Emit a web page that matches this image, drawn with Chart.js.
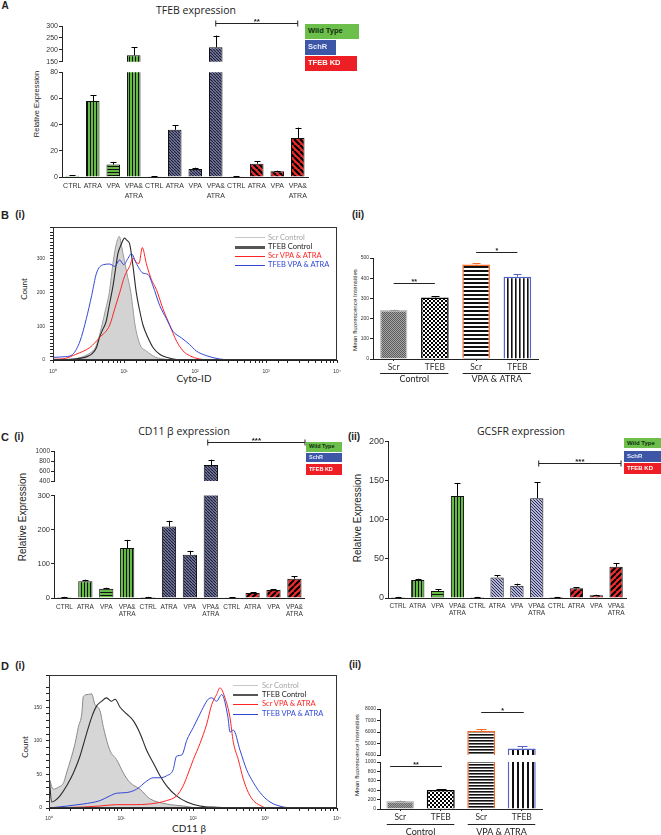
<!DOCTYPE html>
<html>
<head>
<meta charset="utf-8">
<script src="https://cdn.jsdelivr.net/npm/chart.js@4.4.1/dist/chart.umd.min.js"></script>
<style>
html,body{margin:0;padding:0;background:#fff;overflow:hidden}
#fig{position:relative;width:661px;height:835px;overflow:hidden;background:#fff;font-family:'Liberation Sans',Arial,sans-serif;color:#222}
#fig canvas{position:absolute}
.t{position:absolute;white-space:nowrap;line-height:1;transform:translate(-50%,-50%)}
.t.r{transform:translate(-50%,-50%) rotate(-90deg)}
.b{font-weight:bold}
.lg{position:absolute;box-sizing:border-box;white-space:nowrap;font-weight:bold;padding-left:3px;overflow:hidden}
.ln{position:absolute}
.lt{position:absolute;white-space:nowrap;line-height:1;transform:translateY(-50%);font-family:Lato,sans-serif}
</style>
</head>
<body>
<div id="fig">
  <div class="t b" style="left:5px;top:6px;font-size:10px">A</div>
  <div class="t" style="left:196px;top:10px;font-family:'Open Sans';font-size:10.5px">TFEB expression</div>
  <div class="t r" style="left:37px;top:104px;font-size:7.5px">Relative Expression</div>

  <div class="t b" style="left:5px;top:215px;font-size:11px">B</div>
  <div class="t b" style="left:20px;top:215px;font-size:10px">(i)</div>
  <div class="t b" style="left:358px;top:215px;font-size:10px">(ii)</div>
  <div class="t r" style="left:24px;top:289px;font-family:Lato;font-size:8px">Count</div>
  <div class="t" style="left:194px;top:378px;font-family:Lato;font-size:10px">Cyto-ID</div>
  <div class="t r" style="left:354.5px;top:310px;font-size:6.2px">Mean fluorescence Intensities</div>

  <div class="t b" style="left:5px;top:437px;font-size:11px">C</div>
  <div class="t b" style="left:19px;top:437px;font-size:10px">(i)</div>
  <div class="t b" style="left:354px;top:437px;font-size:10px">(ii)</div>
  <div class="t" style="left:184px;top:431px;font-family:'Open Sans';font-size:10.5px">CD11 β expression</div>
  <div class="t" style="left:521px;top:431px;font-family:'Open Sans';font-size:10.5px">GCSFR expression</div>
  <div class="t r" style="left:22.5px;top:517px;font-size:10px">Relative Expression</div>
  <div class="t r" style="left:358px;top:518px;font-size:10px">Relative Expression</div>

  <div class="t b" style="left:5px;top:666px;font-size:11px">D</div>
  <div class="t b" style="left:20px;top:666px;font-size:10px">(i)</div>
  <div class="t b" style="left:355px;top:665px;font-size:10px">(ii)</div>
  <div class="t r" style="left:24.5px;top:747px;font-family:Lato;font-size:8px">Count</div>
  <div class="t" style="left:189px;top:828px;font-family:Lato;font-size:10px">CD11 β</div>
  <div class="t r" style="left:357px;top:755px;font-size:6.2px">Mean fluorescence Intensities</div>
</div>
<script>
// ================= DATA =================
const exprCategories = ['CTRL','ATRA','VPA',['VPA&','ATRA'],'CTRL','ATRA','VPA',['VPA&','ATRA'],'CTRL','ATRA','VPA',['VPA&','ATRA']];
const exprGroups = ['Wild Type','SchR','TFEB KD'];

const tfebMean   = [1, 58, 9.5, 177.5, 0.5, 36, 6.1, 210.5, 0.6, 10.2, 4.3, 29.8];
const tfebErrTop = [1.3, 62.5, 11.5, 210.5, 0.7, 39.4, 7.1, 260, 0.8, 12, 4.8, 37.7];

const cd11Mean   = [3, 48.7, 27.3, 146, 3, 209, 126.6, 718, 2, 14.6, 23.4, 56.5];
const cd11ErrTop = [3.5, 53.6, 30, 170, 3.5, 226, 138, 826, 2.5, 16.5, 26.3, 64];

const gcsfrMean   = [1.3, 22.9, 8.9, 130.4, 1.3, 26.3, 15.7, 127.4, 1.3, 12.3, 3.4, 39.9];
const gcsfrErrTop = [1.5, 24.6, 11, 147, 1.5, 28.9, 18.3, 147.8, 1.5, 14, 4.2, 44.2];

const mfiCategories = ['Scr','TFEB','Scr','TFEB'];
const mfiGroups = ['Control','VPA & ATRA'];
const cytoMfi       = [243, 305, 468, 407];
const cytoMfiErrTop = [245, 312, 473, 420];
const cd11Mfi       = [171, 405, 6090, 4560];
const cd11MfiErrTop = [180, 420, 6240, 4740];

const histLegendNames = ['Scr Control','TFEB Control','Scr VPA & ATRA','TFEB VPA & ATRA'];
const logTickLabels = ['10\u2070','10\u00b9','10\u00b2','10\u00b3','10\u2074'];

// Cyto-ID histograms [intensity, count]
const cytoScrControl = [[1,0],[1.6,2],[2.2,5],[2.8,12],[3.4,22],[3.9,35],[4.4,65],[4.9,104],[5.5,150],[6.2,200],[7.1,297],[7.8,345],[8.6,367],[9.3,335],[10.3,287],[11.3,245],[12.5,200],[13.4,150],[14.3,104],[16.8,46],[20.6,27],[28,8],[39,2],[50,0],[10000,0]];
const cytoTfebControl = [[1,0],[2,3],[3,10],[3.6,20],[4.1,37],[4.5,66],[5,90],[5.6,114],[6.3,170],[7,220],[7.8,287],[8.2,316],[9,340],[10.2,362],[11,355],[12,345],[13.4,278],[14.9,200],[16.5,150],[18.5,104],[21.8,66],[25.6,37],[31.8,17],[39.5,8],[55,1],[80,0],[10000,0]];
const cytoScrVpaAtra = [[1,2],[1.5,5],[2.1,17],[3.3,37],[4.5,66],[6.3,104],[7.4,152],[8.7,200],[10.2,249],[12,278],[13.4,302],[14.9,290],[16.3,287],[18.1,334],[20.6,287],[24.3,239],[28.5,210],[35.4,152],[44,104],[55,56],[68,27],[84,13],[116,3],[178,0],[10000,0]];
const cytoTfebVpaAtra = [[1,8],[1.5,10],[1.9,17],[2.4,56],[2.95,123],[3.5,191],[4.1,258],[5.1,283],[6.3,285],[7.4,278],[8.7,297],[9.9,283],[11.4,302],[12.7,316],[14.9,287],[18.5,258],[21.8,254],[25.6,220],[31.8,162],[39.5,123],[49,85],[64,66],[84,46],[104,27],[144,13],[222,3],[343,0],[10000,0]];

// CD11b histograms [intensity, count]
const cd11ScrControl = [[1,45],[1.15,28],[1.35,31],[1.6,38],[1.75,52],[2,72],[2.3,96],[2.55,120],[2.85,140],[3,166],[3.5,169],[3.9,170],[4.35,154],[5.1,145],[5.7,120],[7,86],[8.7,72],[10.8,52],[13.3,38],[18.4,28],[25,14],[43,6],[73,3],[125,0],[10000,0]];
const cd11TfebControl = [[1,50],[1.09,9],[1.21,11],[1.42,18],[1.76,33],[2.18,52],[2.69,77],[3.33,111],[3.91,135],[4.59,152],[5.39,159],[6.3,164],[7.4,159],[8.3,162],[9.7,150],[12,140],[14.8,130],[18.4,111],[22.7,86],[28.1,67],[34.8,48],[43,33],[59,18],[82,9],[125,3],[213,1],[400,0],[10000,0]];
const cd11ScrVpaAtra = [[1,0],[3,1.5],[5.1,3],[8.7,5],[14.8,5],[25,6],[43,11],[59,18],[73,33],[86,52],[101,72],[125,96],[155,125],[182,154],[213,169],[237,179],[278,164],[326,135],[363,98],[426,72],[500,43],[587,23],[689,11],[853,4],[1055,0],[10000,0]];
const cd11TfebVpaAtra = [[1,0],[3,6],[5.1,11],[7,18],[8.7,22],[12,23],[16.5,28],[22.7,40],[28,45],[35,45],[43,48],[53,57],[59,77],[70,79],[82,101],[101,120],[125,140],[139,150],[163,162],[182,164],[213,159],[250,169],[306,135],[326,113],[363,116],[450,86],[556,57],[689,38],[853,23],[1173,9],[1800,1.5],[2475,0],[10000,0]];

// ================= RENDER =================
const fig = document.getElementById('fig');
Chart.defaults.font.family = "'Liberation Sans', Arial, sans-serif";
Chart.defaults.color = '#222';
Chart.defaults.animation = false;
Chart.defaults.events = [];
Chart.defaults.plugins.legend.display = false;
Chart.defaults.plugins.tooltip.enabled = false;

function pat(bg, fg, type, p, lw) {
  const c = document.createElement('canvas');
  c.width = p; c.height = p;
  const g = c.getContext('2d');
  g.fillStyle = bg; g.fillRect(0, 0, p, p);
  g.fillStyle = fg; g.strokeStyle = fg; g.lineWidth = lw;
  if (type === 'v') g.fillRect(0, 0, lw, p);
  else if (type === 'h') g.fillRect(0, 0, p, lw);
  else if (type === 'd1') { g.beginPath(); for (let k = -1; k <= 1; k++) { g.moveTo(k * p, 0); g.lineTo(k * p + p, p); } g.stroke(); }
  else if (type === 'd2') { g.beginPath(); for (let k = -1; k <= 1; k++) { g.moveTo(k * p, p); g.lineTo(k * p + p, 0); } g.stroke(); }
  else if (type === 'chk') { const h = p / 2; g.fillRect(0, 0, h, h); g.fillRect(h, h, h, h); }
  return g.createPattern(c, 'repeat');
}

function makeCanvas(a, yW, xH, padT, padR, padB) {
  const c = document.createElement('canvas');
  const w = Math.round(a.r - a.l + yW + padR);
  const h = Math.round(a.b - a.t + padT + xH + padB);
  c.width = w; c.height = h;
  c.style.left = (a.l - yW) + 'px'; c.style.top = (a.t - padT) + 'px';
  c.style.width = w + 'px'; c.style.height = h + 'px';
  fig.appendChild(c);
  return c;
}

function errPlugin(errs, colors, cap) {
  return { id: 'errbars', afterDatasetsDraw(chart) {
    if (!errs) return;
    const ctx = chart.ctx, x = chart.scales.x, y = chart.scales.y;
    const vals = chart.data.datasets[0].data;
    ctx.save();
    errs.forEach((e, i) => {
      const v = vals[i];
      if (e == null || v > y.max || e < y.min) return;
      const lo = Math.max(v, y.min), hi = Math.min(e, y.max);
      const px = Math.round(x.getPixelForValue(i)) + 0.5;
      ctx.strokeStyle = (colors && colors[i]) || '#000';
      ctx.lineWidth = 1;
      ctx.beginPath();
      ctx.moveTo(px, y.getPixelForValue(lo)); ctx.lineTo(px, y.getPixelForValue(hi));
      if (e <= y.max) { const yy = Math.round(y.getPixelForValue(e)) + 0.5; ctx.moveTo(px - cap, yy); ctx.lineTo(px + cap, yy); }
      ctx.stroke();
    });
    ctx.restore();
  }};
}

function sigPlugin(items) {
  return { id: 'sig', afterDraw(chart) {
    const ctx = chart.ctx, x = chart.scales.x, y = chart.scales.y;
    const x0 = x.getPixelForValue(0), step = x.getPixelForValue(1) - x0;
    items.forEach(s => {
      const x1 = x0 + s.from * step, x2 = x0 + s.to * step, yy = Math.round(y.getPixelForValue(s.value)) + 0.5;
      ctx.save();
      ctx.strokeStyle = '#222'; ctx.lineWidth = 1;
      ctx.beginPath(); ctx.moveTo(x1, yy); ctx.lineTo(x2, yy);
      if (s.caps) { ctx.moveTo(x1, yy - 3); ctx.lineTo(x1, yy + 3); ctx.moveTo(x2, yy - 3); ctx.lineTo(x2, yy + 3); }
      ctx.stroke();
      ctx.fillStyle = '#222'; ctx.font = s.font; ctx.textAlign = 'center'; ctx.textBaseline = 'alphabetic';
      ctx.fillText(s.text, (x1 + x2) / 2, yy + (s.dy || 0));
      ctx.restore();
    });
  }};
}

function groupPlugin(g) {
  return { id: 'groups', afterDraw(chart) {
    if (!g) return;
    const ctx = chart.ctx, x = chart.scales.x, base = chart.chartArea.bottom;
    g.items.forEach(it => {
      const x1 = x.getPixelForValue(it.from) - g.half, x2 = x.getPixelForValue(it.to) + g.half;
      const yy = Math.round(base + g.lineOff) + 0.5;
      ctx.save();
      ctx.strokeStyle = '#222'; ctx.lineWidth = 1;
      ctx.beginPath(); ctx.moveTo(x1, yy); ctx.lineTo(x2, yy); ctx.stroke();
      ctx.fillStyle = '#222'; ctx.font = g.font; ctx.textAlign = 'center'; ctx.textBaseline = 'middle';
      ctx.fillText(it.text, (x1 + x2) / 2, base + g.textOff);
      ctx.restore();
    });
  }};
}

const framePlugin = { id: 'frame', afterDraw(chart) {
  const a = chart.chartArea, ctx = chart.ctx;
  ctx.save(); ctx.strokeStyle = '#333'; ctx.lineWidth = 1;
  ctx.strokeRect(Math.round(a.left) + 0.5, Math.round(a.top) + 0.5, Math.round(a.right - a.left) - 1, Math.round(a.bottom - a.top) - 1);
  ctx.restore();
}};

function barPanel(c) {
  const xH = c.showX ? c.xH : 0;
  const cv = makeCanvas(c.area, c.yW, xH, c.padT, c.padR, c.padB);
  return new Chart(cv, {
    type: 'bar',
    data: { labels: c.labels, datasets: [{
      data: c.values, backgroundColor: c.fills, borderColor: c.borders, borderWidth: c.bw,
      barPercentage: c.barPct, categoryPercentage: 1,
      clip: { left: false, right: false, top: 0, bottom: 0 }
    }]},
    options: {
      responsive: false,
      layout: { padding: { left: 0, top: c.padT, right: c.padR, bottom: c.padB } },
      scales: {
        x: { display: c.showX,
             grid: c.xTicks ? { display: true, drawOnChartArea: false, drawTicks: true, tickLength: 2, color: '#222', offset: false } : { display: false, drawTicks: false },
             border: { display: true, color: '#222', width: 1 },
             ticks: { font: c.xFont, color: '#333', padding: c.xPad || 0, maxRotation: 0, minRotation: 0, autoSkip: false },
             afterFit: s => { s.height = xH; } },
        y: { min: c.range[0], max: c.range[1],
             grid: { display: true, drawOnChartArea: false, drawTicks: true, tickLength: 3, color: '#222' },
             border: { display: true, color: '#222', width: 1 },
             ticks: { stepSize: c.range[2], font: c.tickFont, color: '#333', padding: 1, autoSkip: false, callback: v => String(v) },
             afterFit: s => { s.width = c.yW; } }
      }
    },
    plugins: [errPlugin(c.errs, c.errColors, c.cap), sigPlugin(c.sig || []), groupPlugin(c.groups)]
  });
}

function logLabel(v) {
  const l = Math.log10(v), r = Math.round(l);
  return Math.abs(l - r) < 1e-9 ? logTickLabels[r] : '';
}

function histPanel(a, yMax, every, curves, yPad, xPad) {
  const yW = 20, xH = 18, padT = 4, padR = 10;
  const cv = makeCanvas(a, yW, xH, padT, padR, 0);
  return new Chart(cv, {
    type: 'line',
    data: { datasets: curves.map(c => ({
      data: c.data.map(p => ({ x: p[0], y: p[1] })),
      borderColor: c.color, borderWidth: c.w, backgroundColor: c.fill || 'rgba(0,0,0,0)',
      fill: c.fill ? 'origin' : false, pointRadius: 0, cubicInterpolationMode: 'monotone', order: c.order
    }))},
    options: {
      responsive: false,
      layout: { padding: { left: 0, top: padT, right: padR, bottom: 0 } },
      scales: {
        x: { type: 'logarithmic', min: 1, max: 10000,
             grid: { display: true, drawOnChartArea: false, tickLength: 3, color: '#222' },
             border: { display: true, color: '#222' },
             ticks: { autoSkip: false, maxRotation: 0, font: { size: 5 }, padding: xPad, color: '#333', callback: logLabel },
             afterFit: s => { s.height = xH; } },
        y: { min: 0, max: yMax,
             grid: { display: true, drawOnChartArea: false, tickLength: 3, color: '#222' },
             border: { display: true, color: '#222' },
             ticks: { stepSize: 10, autoSkip: false, font: { size: 5 }, padding: yPad, color: '#333', callback: v => (v % every === 0 ? String(v) : '') },
             afterFit: s => { s.width = yW; } }
      }
    },
    plugins: [framePlugin]
  });
}

// ---------- styles ----------
const GREEN = '#66bb47';
const gV = pat(GREEN, '#111', 'v', 3, 1);
const gH = pat(GREEN, '#111', 'h', 3, 1);
const sD = pat('#9597c2', '#1d2036', 'd1', 3, 1.3);
const sL = pat('#b3b5dc', '#2a2d48', 'd1', 3, 1);
const rA = pat('#ee2b2b', '#000', 'd1', 6, 2.2);
const rC = pat('#ee2b2b', '#000', 'd2', 6, 2);
const exprFillsA  = [GREEN, gV, gH, gV, '#9597c2', sD, sD, sD, '#ee2b2b', rA, rA, rA];
const exprFillsC1 = [GREEN, gV, gH, gV, '#9597c2', sD, sD, sD, '#ee2b2b', rC, rC, rC];
const exprFillsC2 = [GREEN, gV, gH, gV, '#b3b5dc', sL, sL, sL, '#ee2b2b', rC, rC, rC];
const mfiFillsB = [pat('#5a5a5a', '#a8a8a8', 'chk', 2), pat('#fff', '#000', 'chk', 4), pat('#fff', '#111', 'h', 4, 2), pat('#fff', '#111', 'v', 4, 1.6)];
const mfiFillsD = [pat('#6a6a6a', '#a0a0a0', 'chk', 2), pat('#fff', '#000', 'chk', 4), pat('#fff', '#111', 'h', 3, 1.6), pat('#fff', '#111', 'v', 5, 2)];
const mfiBorders = ['#c4c4c4', '#000', '#f36a2b', '#5563c8'];
const mfiErrCol  = ['#999', '#000', '#f36a2b', '#5563c8'];
const F7 = { size: 7 }, FX = { size: 7, lineHeight: 1.42 };
const FXC = { size: 6.5, lineHeight: 1.05 };

// ---------- Panel A ----------
const aCommon = { labels: exprCategories, values: tfebMean, errs: tfebErrTop, fills: exprFillsA, borders: '#111', bw: 1, barPct: 0.66, yW: 20, padR: 4, cap: 3, tickFont: F7, xFont: FX };
barPanel(Object.assign({}, aCommon, { area: { l: 62, r: 308, t: 26, b: 62 }, range: [150, 300, 50], showX: false, padT: 16, padB: 5,
  sig: [{ from: 7, to: 11, value: 314, text: '**', font: 'bold 8px "Liberation Sans"', caps: true, dy: 0 }] }));
barPanel(Object.assign({}, aCommon, { area: { l: 62, r: 308, t: 72, b: 177 }, range: [0, 80, 20], showX: true, xH: 24, xPad: 4, padT: 5, padB: 0 }));

// ---------- Panel C(i) ----------
const c1Common = { labels: exprCategories, values: cd11Mean, errs: cd11ErrTop, fills: exprFillsC1, borders: '#111', bw: 1, barPct: 0.68, yW: 24, padR: 4, cap: 3, xFont: FXC };
barPanel(Object.assign({}, c1Common, { area: { l: 54, r: 305, t: 451, b: 481 }, range: [400, 1000, 200], tickFont: { size: 6.5 }, showX: false, padT: 19, padB: 5,
  sig: [{ from: 6.85, to: 11.5, value: 1180, text: '***', font: 'bold 8px "Liberation Sans"', caps: true, dy: 0 }] }));
barPanel(Object.assign({}, c1Common, { area: { l: 54, r: 305, t: 495, b: 598 }, range: [0, 300, 100], tickFont: { size: 7.5 }, showX: true, xH: 20, xPad: 6, padT: 5, padB: 0 }));

// ---------- Panel C(ii) ----------
barPanel({ labels: exprCategories, values: gcsfrMean, errs: gcsfrErrTop, fills: exprFillsC2, borders: '#111', bw: 1, barPct: 0.67, yW: 24, padR: 4, cap: 3,
  xFont: FXC, tickFont: { size: 9 }, area: { l: 388, r: 626, t: 441, b: 598 }, range: [0, 200, 50], showX: true, xH: 20, xPad: 5, padT: 6, padB: 0,
  sig: [{ from: 7.1, to: 11.25, value: 173, text: '***', font: 'bold 8px "Liberation Sans"', caps: true, dy: 0 }] });

// ---------- Panel B(ii) ----------
barPanel({ labels: mfiCategories, values: cytoMfi, errs: cytoMfiErrTop, errColors: mfiErrCol, fills: mfiFillsB, borders: mfiBorders, bw: 1.5, barPct: 0.67,
  yW: 14, padR: 4, cap: 4, tickFont: { size: 5 }, xFont: { size: 8.5, family: 'Lato' }, area: { l: 373, r: 538, t: 258, b: 359 }, range: [0, 500, 100],
  showX: true, xTicks: true, xH: 30, xPad: 1, padT: 16, padB: 0,
  sig: [{ from: 0, to: 1, value: 376, text: '**', font: 'bold 7px "Liberation Sans"', dy: 0 }, { from: 2, to: 3, value: 530, text: '*', font: 'bold 7px "Liberation Sans"', dy: 0 }],
  groups: { items: [{ from: 0, to: 1, text: mfiGroups[0] }, { from: 2, to: 3, text: mfiGroups[1] }], half: 13.5, lineOff: 14, textOff: 20.5, font: '9px Lato' } });

// ---------- Panel D(ii) ----------
const dCommon = { labels: mfiCategories, values: cd11Mfi, errs: cd11MfiErrTop, errColors: mfiErrCol, fills: mfiFillsD, borders: mfiBorders, bw: 1.5, barPct: 0.69,
  yW: 18, padR: 4, cap: 5, tickFont: { size: 5 }, xFont: { size: 8.5, family: 'Lato' } };
barPanel(Object.assign({}, dCommon, { area: { l: 380, r: 542, t: 709, b: 755 }, range: [4000, 8000, 1000], showX: false, padT: 14, padB: 4,
  sig: [{ from: 2.0, to: 3.05, value: 7740, text: '*', font: 'bold 7px "Liberation Sans"', dy: 0 }] }));
barPanel(Object.assign({}, dCommon, { area: { l: 380, r: 542, t: 762, b: 809 }, range: [0, 1000, 200], showX: true, xTicks: true, xH: 30, xPad: 1, padT: 4, padB: 0,
  sig: [{ from: -0.25, to: 1.03, value: 920, text: '**', font: 'bold 7px "Liberation Sans"', dy: 0 }],
  groups: { items: [{ from: 0, to: 1, text: mfiGroups[0] }, { from: 2, to: 3, text: mfiGroups[1] }], half: 13.5, lineOff: 15, textOff: 23, font: '9px Lato' } }));

// ---------- Histograms ----------
histPanel({ l: 53, r: 337, t: 223, b: 360 }, 395, 100, [
  { data: cytoScrControl, color: '#9a9a9a', w: 1, fill: '#d3d3d3', order: 5 },
  { data: cytoTfebControl, color: '#2a2a2a', w: 1.1, order: 4 },
  { data: cytoScrVpaAtra, color: '#ff2424', w: 1, order: 3 },
  { data: cytoTfebVpaAtra, color: '#3347d6', w: 1, order: 2 }
], 5, 6);
histPanel({ l: 49, r: 337, t: 672, b: 808 }, 198, 50, [
  { data: cd11ScrControl, color: '#8a8a8a', w: 1, fill: '#d6d6d6', order: 5 },
  { data: cd11TfebControl, color: '#2a2a2a', w: 1.1, order: 4 },
  { data: cd11ScrVpaAtra, color: '#ff2424', w: 1, order: 3 },
  { data: cd11TfebVpaAtra, color: '#3347d6', w: 1, order: 2 }
], 4, 5);

// ---------- Legends ----------
const boxCols = [['#6cbf4a', '#0f2f0f'], ['#3d56a6', '#e8ecff'], ['#ed1f24', '#ffffff']];
function boxLegend(boxes, fs) {
  boxes.forEach((b, i) => {
    const d = document.createElement('div');
    d.className = 'lg';
    d.textContent = exprGroups[i];
    d.style.cssText = `left:${b[0]}px;top:${b[1]}px;width:${b[2]}px;height:${b[3]}px;line-height:${b[3]}px;font-size:${fs}px;background:${boxCols[i][0]};color:${boxCols[i][1]}`;
    fig.appendChild(d);
  });
}
boxLegend([[305, 24, 54, 14.5], [305, 40, 31, 14.5], [305, 56, 52, 14.5]], 7.5);
boxLegend([[306, 442, 36, 9.5], [306, 452.5, 36, 9.5], [306, 464, 36, 10.5]], 5.5);
boxLegend([[624, 438, 37, 10], [624, 450.5, 37, 11], [624, 463, 37, 11]], 6);

const lineSt = [['#c8c8c8', 1, '#a5a5a5'], ['#555', 2.5, '#222'], ['#ff2424', 1, '#ff2424'], ['#3347d6', 1, '#3347d6']];
function histLegend(x0, x1, tx, ys) {
  histLegendNames.forEach((n, i) => {
    const l = document.createElement('div');
    l.className = 'ln';
    l.style.cssText = `left:${x0}px;top:${ys[i] - lineSt[i][1] / 2}px;width:${x1 - x0}px;height:${lineSt[i][1]}px;background:${lineSt[i][0]}`;
    fig.appendChild(l);
    const t = document.createElement('div');
    t.className = 'lt';
    t.textContent = n;
    t.style.cssText = `left:${tx}px;top:${ys[i]}px;font-size:7.5px;color:${lineSt[i][2]}`;
    fig.appendChild(t);
  });
}
histLegend(235, 265, 268, [237.7, 247.3, 256, 265.3]);
histLegend(233, 258, 262, [685.7, 695, 704.3, 714.3]);
</script>
</body>
</html>
